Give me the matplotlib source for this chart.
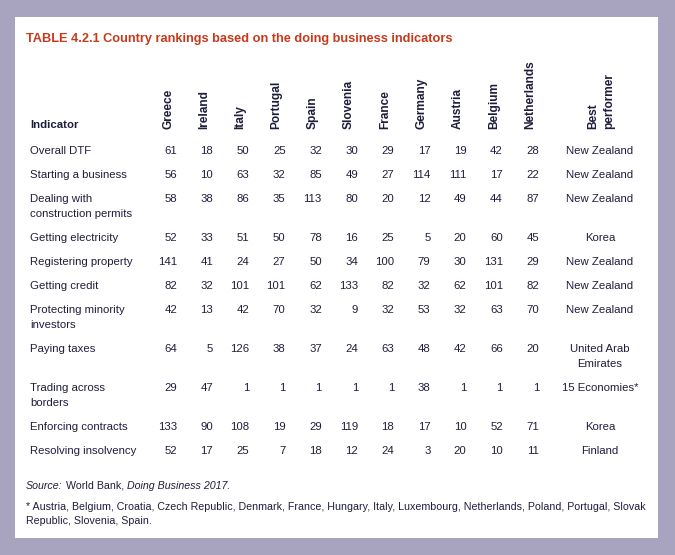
import matplotlib.pyplot as plt
from matplotlib.patches import Rectangle

plt.rc('font', family='Liberation Sans', size=8.2)

title = 'TABLE 4.2.1 Country rankings based on the doing business indicators'
countries = ['Greece', 'Ireland', 'Italy', 'Portugal', 'Spain', 'Slovenia',
             'France', 'Germany', 'Austria', 'Belgium', 'Netherlands']
indicators = ['Overall DTF', 'Starting a business', 'Dealing with\nconstruction permits',
              'Getting electricity', 'Registering property', 'Getting credit',
              'Protecting minority\ninvestors', 'Paying taxes', 'Trading across\nborders',
              'Enforcing contracts', 'Resolving insolvency']
ranks = [
    [61, 18, 50, 25, 32, 30, 29, 17, 19, 42, 28],
    [56, 10, 63, 32, 85, 49, 27, 114, 111, 17, 22],
    [58, 38, 86, 35, 113, 80, 20, 12, 49, 44, 87],
    [52, 33, 51, 50, 78, 16, 25, 5, 20, 60, 45],
    [141, 41, 24, 27, 50, 34, 100, 79, 30, 131, 29],
    [82, 32, 101, 101, 62, 133, 82, 32, 62, 101, 82],
    [42, 13, 42, 70, 32, 9, 32, 53, 32, 63, 70],
    [64, 5, 126, 38, 37, 24, 63, 48, 42, 66, 20],
    [29, 47, 1, 1, 1, 1, 1, 38, 1, 1, 1],
    [133, 90, 108, 19, 29, 119, 18, 17, 10, 52, 71],
    [52, 17, 25, 7, 18, 12, 24, 3, 20, 10, 11],
]
best = ['New Zealand', 'New Zealand', 'New Zealand', 'Korea', 'New Zealand',
        'New Zealand', 'New Zealand', 'United Arab\nEmirates', '15 Economies*',
        'Korea', 'Finland']
footnote = ['* Austria, Belgium, Croatia, Czech Republic, Denmark, France, Hungary, Italy, '
            'Luxembourg, Netherlands, Poland, Portugal, Slovak',
            'Republic, Slovenia, Spain.']

ink = '#1e1e3c'
red = '#c8391b'

fig = plt.figure(figsize=(6.75, 5.55), dpi=100)
fig.patch.set_facecolor('#a8a4bf')
ax = fig.add_axes([0, 0, 1, 1])
ax.set_xlim(0, 675)
ax.set_ylim(555, 0)
ax.axis('off')
ax.add_patch(Rectangle((15, 17), 643, 521, facecolor='white', edgecolor='none'))

ax.text(26, 39, title, color=red, fontweight='bold', fontsize=9.2, va='center')

# column header
ax.text(30, 125, 'Indicator', color=ink, fontweight='bold', va='center')
col_right = [177 + 36.2 * i for i in range(len(countries))]
for x, c in zip(col_right, countries):
    ax.text(x - 9, 129, c, rotation=90, ha='center', va='bottom',
            color=ink, fontweight='bold', fontsize=8.6)
ax.text(601, 129, 'Best\nperformer', rotation=90, ha='center', va='bottom',
        multialignment='left', color=ink, fontweight='bold', fontsize=8.6,
        linespacing=1.45)

# rows
y = 151
lh = 15
for ind, row, b in zip(indicators, ranks, best):
    for k, line in enumerate(ind.split('\n')):
        ax.text(30, y + k * lh, line, color=ink, va='center')
    for x, v in zip(col_right, row):
        ax.text(x, y, str(v), color=ink, ha='right', va='center')
    for k, line in enumerate(b.split('\n')):
        ax.text(600, y + k * lh, line, color=ink, ha='center', va='center')
    nlines = max(len(ind.split('\n')), len(b.split('\n')))
    y += 24 + lh * (nlines - 1)

# notes
t = ax.text(26, 486, 'Source:', color=ink, fontsize=7.7, style='italic', va='center')
t = ax.annotate(' World Bank, ', xycoords=t, xy=(1, 0.5), va='center',
                color=ink, fontsize=7.7)
ax.annotate('Doing Business 2017.', xycoords=t, xy=(1, 0.5), va='center',
            color=ink, fontsize=7.7, style='italic')
for k, line in enumerate(footnote):
    ax.text(26, 507 + k * 14, line, color=ink, fontsize=7.65, va='center')

fig.savefig('out.png', dpi=100, facecolor=fig.get_facecolor())
